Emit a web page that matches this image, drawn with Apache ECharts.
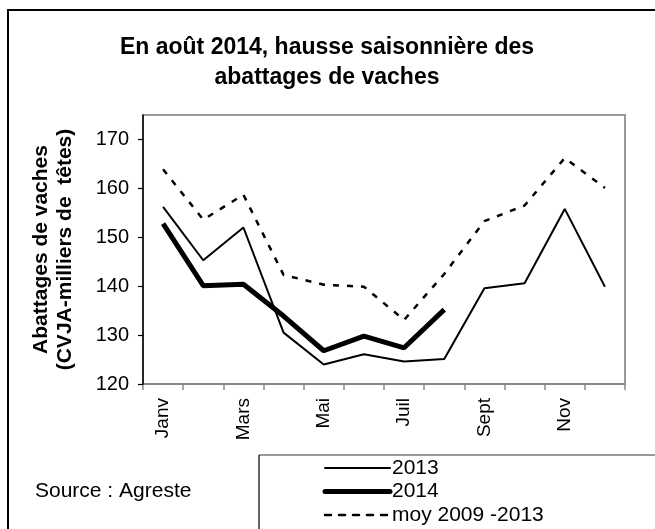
<!DOCTYPE html>
<html>
<head>
<meta charset="utf-8">
<script src="https://cdn.jsdelivr.net/npm/echarts@6/dist/echarts.min.js"></script>
<style>
html,body{margin:0;padding:0;background:#fff;}
#chart{width:655px;height:529px;}
</style>
</head>
<body>
<div id="chart"></div>
<script>
const months = ['Janv','Févr','Mars','Avr','Mai','Juin','Juil','Août','Sept','Oct','Nov','Déc'];
const s2013 = [156.2,145.3,152.0,130.5,124.0,126.1,124.6,125.1,139.6,140.6,155.8,139.9];
const s2014 = [152.8,140.1,140.4,133.9,126.8,129.8,127.4,135.2];
const sMoy = [163.9,153.6,158.7,142.3,140.3,139.9,133.1,142.5,153.3,156.5,166.2,160.1];
const yTicks = [120,130,140,150,160,170];
const seriesNames = ['2013','2014','moy 2009 -2013'];
const titleLines = ['En août 2014, hausse saisonnière des', 'abattages de vaches'];
const yTitle = 'Abattages de vaches\n(CVJA-milliers de  têtes)';
const sourceText = 'Source : Agreste';

const FONT = "'Liberation Sans', Arial, sans-serif";
const legendStyles = [
  {width: 2, dash: null},
  {width: 5, dash: null},
  {width: 2.5, dash: [6, 8]}
];
const legendGraphics = [];
seriesNames.forEach((n, i) => {
  const y = 468 + i * 23.5;
  legendGraphics.push({type: 'line', z: 10, silent: true,
    shape: {x1: 325, y1: y, x2: 390, y2: y},
    style: {stroke: '#000', lineWidth: legendStyles[i].width, lineDash: legendStyles[i].dash, lineCap: 'round'}});
  legendGraphics.push({type: 'text', z: 10, silent: true, x: 392, y: y,
    style: {text: n, font: "21px 'Liberation Sans', Arial, sans-serif", fill: '#000', verticalAlign: 'middle'}});
});

const chart = echarts.init(document.getElementById('chart'), null, {renderer:'canvas'});
chart.setOption({
  animation: false,
  backgroundColor: '#fff',
  textStyle: {fontFamily: FONT, color: '#000'},
  grid: {
    left: 143, top: 115, width: 482, height: 269,
    show: true, borderColor: '#999', borderWidth: 2, backgroundColor: 'transparent'
  },
  xAxis: {
    type: 'category',
    data: months,
    boundaryGap: true,
    axisLine: {lineStyle: {color: '#888', width: 2}},
    axisTick: {show: true, interval: 0, length: 6, lineStyle: {color: '#888', width: 1.5}},
    axisLabel: {interval: 1, rotate: 90, margin: 14, fontSize: 19, color: '#000', fontFamily: FONT},
    splitLine: {show: false}
  },
  yAxis: {
    type: 'value',
    min: 120, max: 175,
    z: 3,
    name: yTitle,
    nameLocation: 'middle',
    nameRotate: 90,
    nameGap: 66,
    nameTextStyle: {fontFamily: FONT, fontSize: 21, fontWeight: 'bold', color: '#000', lineHeight: 24},
    axisLine: {show: true, lineStyle: {color: '#000', width: 1.5}},
    axisTick: {show: true, length: 5, customValues: yTicks, lineStyle: {color: '#000', width: 1.2}},
    axisLabel: {customValues: yTicks, margin: 14, fontSize: 20, color: '#000', fontFamily: FONT},
    splitLine: {show: false}
  },
  series: [
    {name: seriesNames[0], type: 'line', data: s2013, symbol: 'none',
     lineStyle: {color: '#000', width: 2}, itemStyle: {color: '#000'}, z: 2},
    {name: seriesNames[1], type: 'line', data: s2014, symbol: 'none',
     lineStyle: {color: '#000', width: 5}, itemStyle: {color: '#000'}, z: 3},
    {name: seriesNames[2], type: 'line', data: sMoy, symbol: 'none',
     lineStyle: {color: '#000', width: 2.5, type: [6, 8]}, itemStyle: {color: '#000'}, z: 2}
  ],
  graphic: [
    {type: 'rect', z: 10, silent: true, shape: {x: 8, y: 10, width: 700, height: 600},
     style: {fill: null, stroke: '#000', lineWidth: 2}},
    {type: 'text', z: 10, silent: true, x: 327, y: 48,
     style: {text: titleLines[0], font: "bold 23px 'Liberation Sans', Arial, sans-serif", fill: '#000', align: 'center', verticalAlign: 'middle'}},
    {type: 'text', z: 10, silent: true, x: 327, y: 78,
     style: {text: titleLines[1], font: "bold 23px 'Liberation Sans', Arial, sans-serif", fill: '#000', align: 'center', verticalAlign: 'middle'}},
    {type: 'line', z: 10, silent: true, shape: {x1: 259, y1: 455, x2: 700, y2: 455},
     style: {stroke: '#777', lineWidth: 1.5}},
    {type: 'line', z: 10, silent: true, shape: {x1: 259, y1: 455, x2: 259, y2: 600},
     style: {stroke: '#000', lineWidth: 1.2}},
    {type: 'text', z: 10, silent: true, x: 35, y: 491,
     style: {text: sourceText, font: "21px 'Liberation Sans', Arial, sans-serif", fill: '#000', verticalAlign: 'middle'}}
  ].concat(legendGraphics)
});
</script>
</body>
</html>
